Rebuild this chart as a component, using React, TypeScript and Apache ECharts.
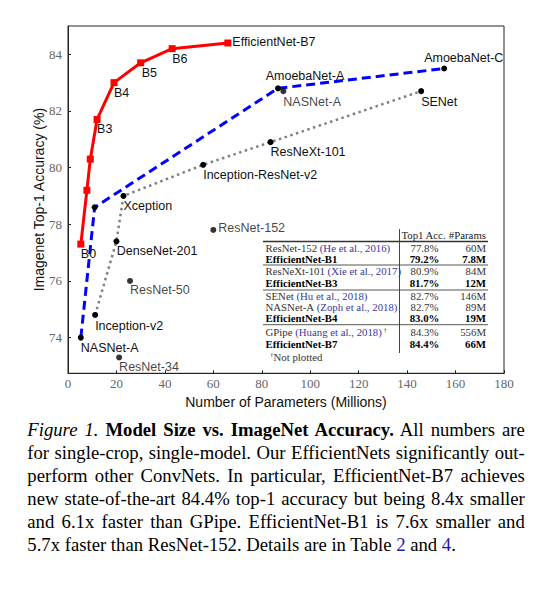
import React, { useEffect, useRef } from "react";
import * as echarts from "echarts";

// ---------- data ----------
const effNames = ["B0", "B1", "B2", "B3", "B4", "B5", "B6", "EfficientNet-B7"];
const effShown = [true, false, false, true, true, true, true, true];
const effParams = [5.3, 7.8, 9.2, 12, 19, 30, 43, 66];
const effAcc = [77.3, 79.2, 80.3, 81.7, 83.0, 83.7, 84.2, 84.4];

const nasNames = ["NASNet-A", "", "AmoebaNet-A", "AmoebaNet-C"];
const nasParams = [5.3, 11, 86.7, 155.3];
const nasAcc = [74.0, 78.6, 82.8, 83.5];

const cnnNames = ["Inception-v2", "DenseNet-201", "Xception", "Inception-ResNet-v2", "ResNeXt-101", "SENet"];
const cnnParams = [11.2, 20, 22.9, 55.8, 83.6, 145.8];
const cnnAcc = [74.8, 77.4, 79.0, 80.1, 80.9, 82.7];

const otherNames = ["ResNet-152", "ResNet-50", "ResNet-34", "NASNet-A"];
const otherParams = [60, 25.6, 21.1, 88.9];
const otherAcc = [77.8, 76.0, 73.3, 82.7];

const xTicks = [0, 20, 40, 60, 80, 100, 120, 140, 160, 180];
const yTicks = [74, 76, 78, 80, 82, 84];

const tableModels = ["ResNet-152", "EfficientNet-B1", "ResNeXt-101", "EfficientNet-B3", "SENet", "NASNet-A", "EfficientNet-B4", "GPipe", "EfficientNet-B7"];
const tableCites = ["(He et al., 2016)", "", "(Xie et al., 2017)", "", "(Hu et al., 2018)", "(Zoph et al., 2018)", "", "(Huang et al., 2018)", ""];
const tableDagger = [false, false, false, false, false, false, false, true, false];
const tableAcc = ["77.8%", "79.2%", "80.9%", "81.7%", "82.7%", "82.7%", "83.0%", "84.3%", "84.4%"];
const tableParams = ["60M", "7.8M", "84M", "12M", "146M", "89M", "19M", "556M", "66M"];
const tableBold = [false, true, false, true, false, false, true, false, true];
const tableHeader = ["Top1 Acc.", "#Params"];
const tableFootnote = "Not plotted";

// ---------- layout / style ----------
const effLabelOffsets = [[0, 10], [0, 0], [0, 0], [0, 9.5], [0, 10], [1, 10], [0, 10.5], [4.5, -0.5]];
const nasLabelOffsets = [[0, 10], [0, 0], [-12.3, -12.6], [-20, -10.7]];
const cnnLabelOffsets = [[0, 11], [0.4, 9.7], [0, 10.3], [0, 10], [0, 10.3], [0, 10.7]];
const otherLabelOffsets = [[5, -2.3], [0, 9.3], [0, 9.4], [0, 10.7]];

const tableRowY = [247.8, 259.2, 271, 283, 295.8, 306.9, 318.3, 331.5, 343.8];
const tableRuleY = [265, 290, 324.7];
const TFS = 10.8;

const SANS = "Liberation Sans";
const SERIF = "Liberation Serif";

function mkLabel(text: string, show: boolean, off: number[]) {
  return {
    show: show && !!text,
    formatter: text,
    position: "inside",
    offset: off,
    align: "left",
    verticalAlign: "middle",
    color: "#111",
    fontFamily: SANS,
    fontSize: 12.5,
    textBorderWidth: 0,
  };
}

function buildTable(): any[] {
  const els: any[] = [];
  const nameX = 265.5;
  const accX = 424.5;
  const parX = 486;
  els.push({
    type: "text",
    x: 423.5,
    y: 235.3,
    style: { text: tableHeader[0], fill: "#222", font: `${TFS}px "${SERIF}"`, align: "center", verticalAlign: "middle" },
  });
  els.push({
    type: "text",
    x: parX,
    y: 235.3,
    style: { text: tableHeader[1], fill: "#222", font: `${TFS}px "${SERIF}"`, align: "right", verticalAlign: "middle" },
  });
  els.push({ type: "line", shape: { x1: 263, y1: 241.5, x2: 488, y2: 241.5 }, style: { stroke: "#333", lineWidth: 1.4 } });
  tableRuleY.forEach((y) => {
    els.push({ type: "line", shape: { x1: 263, y1: y, x2: 488, y2: y }, style: { stroke: "#555", lineWidth: 1 } });
  });
  els.push({ type: "line", shape: { x1: 399.5, y1: 229, x2: 399.5, y2: 353 }, style: { stroke: "#444", lineWidth: 1 } });

  tableModels.forEach((m, i) => {
    const y = tableRowY[i];
    const bold = tableBold[i];
    const w = bold ? "bold" : "normal";
    const fill = bold ? "#000" : "#333";
    let txt = `{n|${m}}`;
    if (tableCites[i]) txt += `{c| ${tableCites[i]}}`;
    if (tableDagger[i]) txt += `{s| †}`;
    els.push({
      type: "text",
      x: nameX,
      y,
      style: {
        text: txt,
        align: "left",
        verticalAlign: "middle",
        font: `${TFS}px "${SERIF}"`,
        fill: "#333",
        lineHeight: TFS,
        rich: {
          n: { fontFamily: SERIF, fontSize: TFS, fontWeight: w, fill, lineHeight: TFS },
          c: { fontFamily: SERIF, fontSize: TFS, fill: "#3a3aa0", lineHeight: TFS },
          s: { fontFamily: SERIF, fontSize: 7, fill: "#333", lineHeight: TFS, verticalAlign: "top" },
        },
      },
    });
    els.push({
      type: "text",
      x: accX,
      y,
      style: { text: tableAcc[i], font: `${w} ${TFS}px "${SERIF}"`, fill, align: "center", verticalAlign: "middle", lineHeight: TFS },
    });
    els.push({
      type: "text",
      x: parX,
      y,
      style: { text: tableParams[i], font: `${w} ${TFS}px "${SERIF}"`, fill, align: "right", verticalAlign: "middle", lineHeight: TFS },
    });
  });
  els.push({
    type: "text",
    x: 270,
    y: 356.5,
    style: {
      text: `{s|†}{n|${tableFootnote}}`,
      align: "left",
      verticalAlign: "middle",
      font: `${TFS}px "${SERIF}"`,
      lineHeight: TFS,
      rich: {
        n: { fontFamily: SERIF, fontSize: TFS, fill: "#333", lineHeight: TFS },
        s: { fontFamily: SERIF, fontSize: 7, fill: "#333", lineHeight: TFS, verticalAlign: "top" },
      },
    },
  });
  return els;
}

export default function App() {
  const ref = useRef<HTMLDivElement>(null);

  useEffect(() => {
    if (!ref.current) return;
    const chart = echarts.init(ref.current, null, { renderer: "svg" });

    const effData = effParams.map((x, i) => ({
      value: [x, effAcc[i]],
      label: mkLabel(effNames[i], effShown[i], effLabelOffsets[i]),
    }));
    const nasData = nasParams.map((x, i) => ({
      value: [x, nasAcc[i]],
      label: mkLabel(nasNames[i], true, nasLabelOffsets[i]),
    }));
    const cnnData = cnnParams.map((x, i) => ({
      value: [x, cnnAcc[i]],
      label: mkLabel(cnnNames[i], true, cnnLabelOffsets[i]),
    }));
    const otherData = otherParams.map((x, i) => ({
      value: [x, otherAcc[i]],
      label: mkLabel(otherNames[i], true, otherLabelOffsets[i]),
    }));

    const option: any = {
      animation: false,
      backgroundColor: "#fff",
      grid: {
        left: 68,
        right: 50,
        top: 26,
        bottom: 36.7,
        show: true,
        borderColor: "#222",
        borderWidth: 1,
        backgroundColor: "transparent",
        containLabel: false,
        outerBoundsMode: "none",
      },
      xAxis: {
        type: "value",
        min: xTicks[0],
        max: xTicks[xTicks.length - 1],
        interval: 20,
        name: "Number of Parameters (Millions)",
        nameLocation: "middle",
        nameGap: 20,
        nameTextStyle: { color: "#111", fontFamily: SANS, fontSize: 14 },
        axisLine: { show: true, lineStyle: { color: "#222", width: 1 } },
        axisTick: { show: true, inside: true, length: 3, lineStyle: { color: "#222" } },
        axisLabel: { color: "#666", fontFamily: SERIF, fontSize: 13, margin: 4 },
        splitLine: { show: false },
      },
      yAxis: {
        type: "value",
        min: 72.74,
        max: 85.0,
        name: "Imagenet Top-1 Accuracy (%)",
        nameLocation: "middle",
        nameGap: 22,
        nameMoveOverlap: false,
        nameTextStyle: { color: "#111", fontFamily: SANS, fontSize: 14 },
        axisLine: { show: true, lineStyle: { color: "#222", width: 1 } },
        axisTick: { show: true, inside: true, length: 3, lineStyle: { color: "#222" }, customValues: yTicks },
        axisLabel: { color: "#666", fontFamily: SERIF, fontSize: 13, margin: 6, customValues: yTicks },
        splitLine: { show: false },
      },
      series: [
        {
          type: "line",
          name: "cnn",
          data: cnnData,
          symbol: "circle",
          symbolSize: 6,
          itemStyle: { color: "#000" },
          lineStyle: { color: "#808080", width: 2.5, type: [2.5, 3.5] },
          z: 2,
          emphasis: { disabled: true },
        },
        {
          type: "line",
          name: "nas",
          data: nasData,
          symbol: "circle",
          symbolSize: 6,
          itemStyle: { color: "#000" },
          lineStyle: { color: "#0000ff", width: 3, type: [9, 5] },
          z: 3,
          emphasis: { disabled: true },
        },
        {
          type: "scatter",
          name: "other",
          data: otherData,
          symbol: "circle",
          symbolSize: 6,
          itemStyle: { color: "#000" },
          z: 4,
          emphasis: { disabled: true },
        },
        {
          type: "line",
          name: "eff",
          data: effData,
          symbol: "rect",
          symbolSize: 7,
          itemStyle: { color: "#ff0000" },
          lineStyle: { color: "#ff0000", width: 3 },
          z: 5,
          emphasis: { disabled: true },
        },
      ],
      graphic: buildTable(),
    };
    chart.setOption(option);
    return () => chart.dispose();
  }, []);

  const lineStyle: React.CSSProperties = {
    textAlign: "justify",
    textAlignLast: "justify",
    whiteSpace: "nowrap",
    height: 23.1,
  };
  const lastStyle: React.CSSProperties = { textAlign: "left", whiteSpace: "nowrap", height: 23.1 };
  const link: React.CSSProperties = { color: "#1a1aa6" };

  return (
    <div style={{ position: "absolute", left: 0, top: 0, width: 554, height: 593, background: "#fff" }}>
      <div ref={ref} style={{ position: "absolute", left: 0, top: 0, width: 554, height: 410 }} />
      <div
        style={{
          position: "absolute",
          left: 27.3,
          top: 418,
          width: 497.5,
          fontFamily: '"Liberation Serif", serif',
          fontSize: 18.7,
          lineHeight: "23.1px",
          color: "#000",
        }}
      >
        <div style={lineStyle}>
          <i>Figure 1.</i> <b>Model Size vs. ImageNet Accuracy.</b> All numbers are
        </div>
        <div style={lineStyle}>for single-crop, single-model. Our EfficientNets significantly out-</div>
        <div style={lineStyle}>perform other ConvNets. In particular, EfficientNet-B7 achieves</div>
        <div style={lineStyle}>new state-of-the-art 84.4% top-1 accuracy but being 8.4x smaller</div>
        <div style={lineStyle}>and 6.1x faster than GPipe. EfficientNet-B1 is 7.6x smaller and</div>
        <div style={lastStyle}>
          5.7x faster than ResNet-152. Details are in Table <span style={link}>2</span> and{" "}
          <span style={link}>4</span>.
        </div>
      </div>
    </div>
  );
}
